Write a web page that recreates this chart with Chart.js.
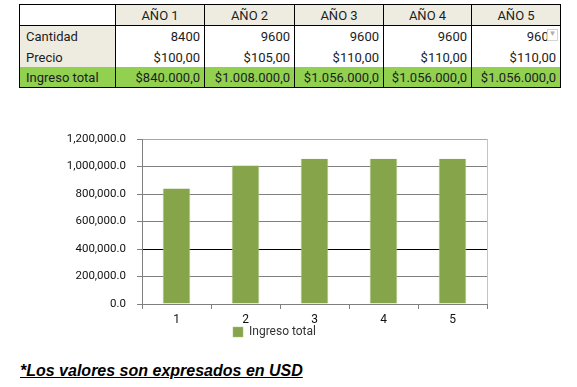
<!DOCTYPE html>
<html>
<head>
<meta charset="utf-8">
<script src="https://cdn.jsdelivr.net/npm/chart.js@4"></script>
<style>
  body { margin: 0; width: 577px; height: 387px; background: #fff; position: relative; overflow: hidden; }
  #tabla { position: absolute; left: 19px; top: 4px; border-collapse: collapse; table-layout: fixed;
    font-family: Roboto, sans-serif; font-size: 13px; font-weight: normal; color: #1c1c24; border: 1px solid #000; }
  #tabla td { border-left: 1px solid #000; border-right: 1px solid #000; padding: 0 4px; white-space: nowrap; overflow: hidden; font-weight: normal; }
  #tabla tr.head td { border-bottom: 1px solid #000; background: #eeece1; text-align: center; height: 20px; }
  #tabla tr.head td.blank { background: #fff; }
  #tabla td.lab { background: #eeece1; text-align: left; padding-left: 6px; }
  #tabla td.num { text-align: right; }
  #tabla tr.verde td { background: #92d050; }
  #tabla tr.r1 td { height: 21px; }
  #tabla tr.r2 td, #tabla tr.verde td { height: 20px; }
  .drop { position: absolute; right: 2px; top: 3px; width: 9px; height: 10px; background: #fff;
    border: 1px solid #d4d4d4; color: #b0b0b0; font-size: 8px; line-height: 8px; text-align: center; }
  #wrap { position: absolute; left: 0; top: 110px; width: 577px; height: 240px; }
  #nota { position: absolute; left: 20px; top: 362px; font-family: "Liberation Sans", Arial, sans-serif;
    font-size: 16px; font-weight: bold; font-style: italic; text-decoration: underline; color: #000; }
</style>
</head>
<body>
<table id="tabla">
  <colgroup>
    <col style="width:96px"><col style="width:89px"><col style="width:90px">
    <col style="width:89px"><col style="width:88px"><col style="width:89px">
  </colgroup>
  <tbody id="cuerpo"></tbody>
</table>
<div id="wrap"><canvas id="myChart" width="577" height="240"></canvas></div>
<div id="nota">*Los valores son expresados en USD</div>

<script>
// datos de la tabla y del grafico
const anios = ['AÑO 1', 'AÑO 2', 'AÑO 3', 'AÑO 4', 'AÑO 5'];
const cantidad = [8400, 9600, 9600, 9600, 9600];
const precio = [100, 105, 110, 110, 110];
const ingreso = [840000, 1008000, 1056000, 1056000, 1056000];
const categorias = ['1', '2', '3', '4', '5'];
const yMax = 1200000;
const yPaso = 200000;

// formato "1.056.000,0"
let miles = (n, dec) => {
  let partes = n.toFixed(dec).split('.');
  let ent = partes[0].replace(/\B(?=(\d{3})+(?!\d))/g, '.');
  return dec ? ent + ',' + partes[1] : ent;
};

let cuerpo = document.getElementById('cuerpo');
let fila = (clase, celdas) => {
  let tr = document.createElement('tr');
  tr.className = clase;
  celdas.forEach(c => {
    let td = document.createElement('td');
    td.className = c.cls || '';
    td.textContent = c.txt;
    tr.appendChild(td);
  });
  cuerpo.appendChild(tr);
  return tr;
};

fila('head', [{ txt: '', cls: 'blank' }].concat(anios.map(a => ({ txt: a }))));
let r1 = fila('r1', [{ txt: 'Cantidad', cls: 'lab' }].concat(cantidad.map(v => ({ txt: String(v), cls: 'num' }))));
fila('r2', [{ txt: 'Precio', cls: 'lab' }].concat(precio.map(v => ({ txt: '$' + miles(v, 2), cls: 'num' }))));
fila('verde', [{ txt: 'Ingreso total', cls: 'lab' }].concat(ingreso.map(v => ({ txt: '$' + miles(v, 1), cls: 'num' }))));

// boton desplegable de excel sobre la ultima celda
let ultima = r1.lastChild;
ultima.style.position = 'relative';
let drop = document.createElement('span');
drop.className = 'drop';
drop.textContent = '▼';
ultima.appendChild(drop);

const gris = '#7f7f7f';
const ctx = document.getElementById('myChart');

new Chart(ctx, {
  type: 'bar',
  data: {
    labels: categorias,
    datasets: [{
      label: 'Ingreso total',
      data: ingreso,
      backgroundColor: '#86a44a',
      borderColor: '#a9c07a',
      borderWidth: { left: 1, right: 1, top: 0, bottom: 0 },
      categoryPercentage: 1,
      barPercentage: 0.4
    }]
  },
  options: {
    responsive: false,
    animation: false,
    devicePixelRatio: 1,
    layout: { padding: { left: 62, right: 90, top: 29, bottom: 2 } },
    plugins: {
      tooltip: { enabled: false },
      legend: {
        position: 'bottom',
        labels: {
          boxWidth: 10,
          boxHeight: 10,
          padding: 2,
          color: '#333',
          font: { family: 'Roboto', size: 12 }
        }
      }
    },
    scales: {
      y: {
        min: 0,
        max: yMax,
        ticks: {
          stepSize: yPaso,
          padding: 11,
          color: '#111',
          font: { family: 'Roboto', size: 11.5 },
          callback: v => v.toLocaleString('en-US', { minimumFractionDigits: 1, maximumFractionDigits: 1 })
        },
        grid: {
          color: c => c.tick && c.tick.value === yMax ? '#a6a6a6' : (c.tick && c.tick.value === 400000 ? '#000' : gris),
          tickColor: gris,
          tickLength: 5
        },
        border: { color: gris },
        afterFit: s => { s.width = 80; }
      },
      x: {
        ticks: {
          padding: 4,
          color: '#111',
          font: { family: 'Roboto', size: 12 }
        },
        grid: {
          offset: true,
          color: c => c.type === 'scale' ? '#c4c4c4' : 'rgba(0,0,0,0)',
          tickColor: gris,
          tickLength: 5
        },
        border: { color: gris },
        afterFit: s => { s.height = 20; }
      }
    }
  }
});
</script>
</body>
</html>
